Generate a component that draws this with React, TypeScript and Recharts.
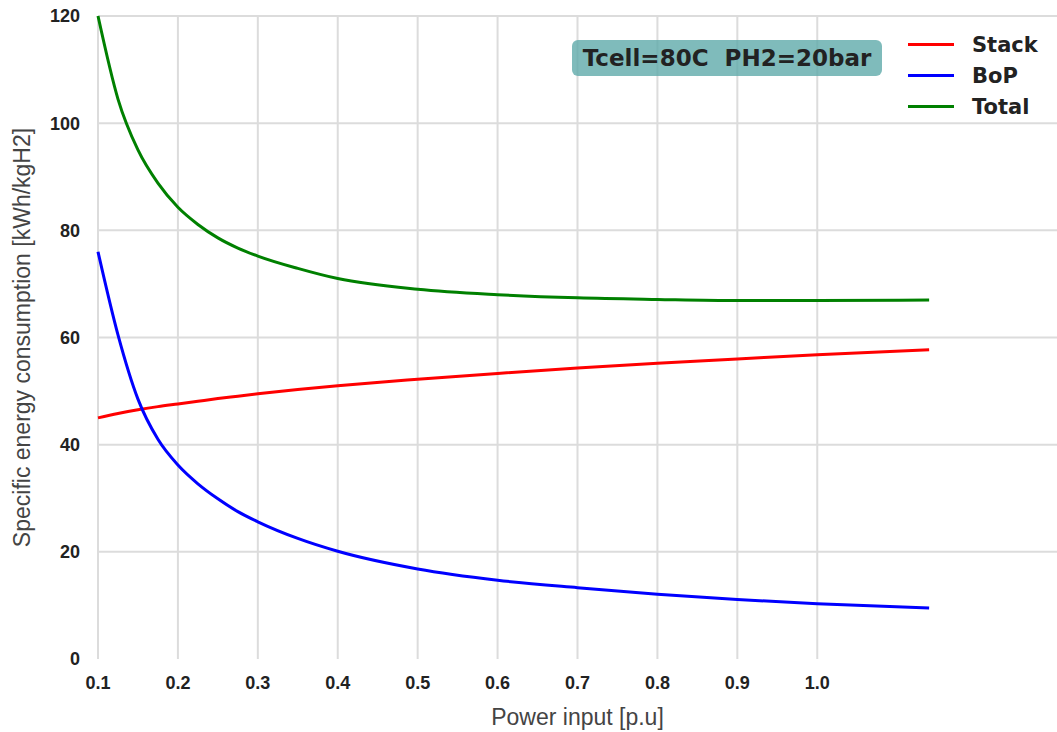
import { CartesianGrid, Legend, Line, LineChart, XAxis, YAxis } from "recharts";

const powerInput = [0.1, 0.125, 0.15, 0.175, 0.2, 0.225, 0.25, 0.275, 0.3, 0.35, 0.4, 0.5, 0.6, 0.7, 0.8, 0.9, 1.0, 1.14];
const stack = [45.0, 45.8, 46.5, 47.1, 47.6, 48.1, 48.6, 49.05, 49.5, 50.3, 51.0, 52.2, 53.3, 54.3, 55.2, 56.0, 56.8, 57.7];
const bop = [76.0, 60.5, 48.5, 41.0, 36.2, 32.7, 29.9, 27.5, 25.6, 22.5, 20.1, 16.8, 14.7, 13.3, 12.1, 11.1, 10.3, 9.5];
const total = [120.0, 104.5, 95.0, 88.8, 84.3, 81.1, 78.6, 76.7, 75.2, 72.9, 71.0, 69.0, 68.0, 67.4, 67.1, 66.9, 66.9, 67.0];

const seriesOrder = ["Stack", "BoP", "Total"];
const xTicks = [0.1, 0.2, 0.3, 0.4, 0.5, 0.6, 0.7, 0.8, 0.9, 1.0];
const yTicks = [0, 20, 40, 60, 80, 100, 120];
const gridRows = [20, 40, 60, 80, 100, 120];

const chartData = powerInput.map((p, i) => ({
  p,
  stack: stack[i],
  bop: bop[i],
  total: total[i],
}));

const tickStyle = { fontSize: 18, fontWeight: 700, fill: "#222", fontFamily: "Liberation Sans, Arial, sans-serif" };
const axisLabelStyle = { fontSize: 23, fill: "#444", fontFamily: "Liberation Sans, Arial, sans-serif" };

function LegendBox({ payload }: any) {
  const items = [...(payload || [])].sort(
    (a: any, b: any) => seriesOrder.indexOf(a.value) - seriesOrder.indexOf(b.value)
  );
  return (
    <div style={{ fontFamily: "DejaVu Sans, sans-serif", fontWeight: 700, fontSize: 21, color: "#222" }}>
      {items.map((e: any) => (
        <div key={e.value} style={{ display: "flex", alignItems: "center", height: 31 }}>
          <span style={{ display: "inline-block", width: 46, height: 3, background: e.color, marginRight: 18 }} />
          {e.value}
        </div>
      ))}
    </div>
  );
}

export default function App() {
  return (
    <div style={{ position: "absolute", left: 0, top: 0, width: 1057, height: 732, background: "#fff" }}>
      <LineChart width={1057} height={732} data={chartData} margin={{ top: 16, right: 0, left: 0, bottom: 0 }}>
        <CartesianGrid stroke="#dcdcdc" strokeWidth={2} horizontalValues={gridRows} verticalValues={xTicks} />
        <XAxis
          dataKey="p"
          type="number"
          domain={[0.1, 1.3]}
          ticks={xTicks}
          tickFormatter={(v) => v.toFixed(1)}
          axisLine={false}
          tickLine={false}
          tickMargin={11}
          tick={tickStyle}
          height={73}
          label={({ viewBox }: any) => (
            <text x={viewBox.x + viewBox.width / 2} y={725} textAnchor="middle" style={axisLabelStyle}>
              Power input [p.u]
            </text>
          )}
        />
        <YAxis
          type="number"
          domain={[0, 120]}
          ticks={yTicks}
          axisLine={false}
          tickLine={false}
          tickMargin={12}
          tick={tickStyle}
          width={98}
          label={({ viewBox }: any) => {
            const cy = viewBox.y + viewBox.height / 2;
            return (
              <text x={30} y={cy} textAnchor="middle" transform={`rotate(-90, 30, ${cy})`} style={axisLabelStyle}>
                Specific energy consumption [kWh/kgH2]
              </text>
            );
          }}
        />
        <Legend
          layout="vertical"
          align="center"
          verticalAlign="middle"
          wrapperStyle={{ top: 29, left: 908, width: 150 }}
          content={<LegendBox />}
        />
        <Line type="monotone" dataKey="stack" name="Stack" stroke="#ff0000" strokeWidth={3} dot={false} isAnimationActive={false} />
        <Line type="monotone" dataKey="bop" name="BoP" stroke="#0000ff" strokeWidth={3} dot={false} isAnimationActive={false} />
        <Line type="monotone" dataKey="total" name="Total" stroke="#008000" strokeWidth={3} dot={false} isAnimationActive={false} />
      </LineChart>
      <div
        style={{
          position: "absolute",
          left: 572,
          top: 40,
          width: 310,
          height: 36,
          borderRadius: 6,
          background: "rgba(95, 170, 170, 0.8)",
          display: "flex",
          alignItems: "center",
          justifyContent: "center",
          fontFamily: "DejaVu Sans, sans-serif",
          fontWeight: 700,
          fontSize: 23,
          color: "#222",
          whiteSpace: "pre",
        }}
      >
        {"Tcell=80C  PH2=20bar"}
      </div>
    </div>
  );
}
